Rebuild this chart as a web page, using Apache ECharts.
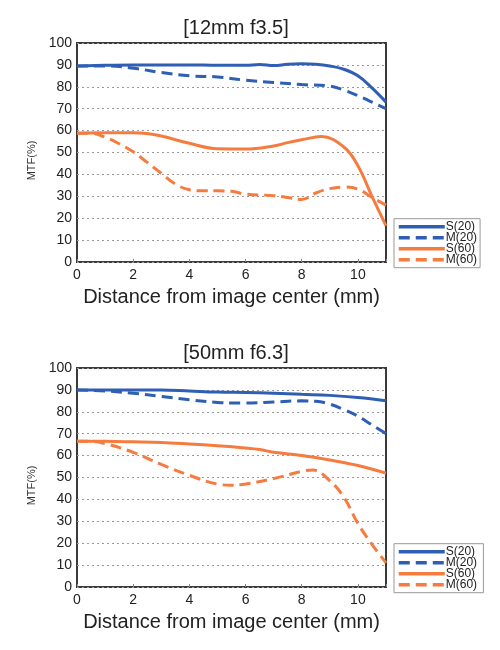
<!DOCTYPE html>
<html><head><meta charset="utf-8">
<script src="https://cdn.jsdelivr.net/npm/echarts@6/dist/echarts.min.js"></script>
<style>html,body{margin:0;padding:0;background:#fff}#c{width:500px;height:650px}</style>
</head><body><div id="c"></div>
<script>
var titles = ['[12mm f3.5]', '[50mm f6.3]'];
var seriesNames = ['S(20)', 'M(20)', 'S(60)', 'M(60)'];
var xTicks = [0, 2, 4, 6, 8, 10];

// Chart 1: 12mm f3.5
var a_S20_x = [0, 1, 2, 3, 4, 5, 6, 6.5, 7, 7.5, 8, 8.5, 9, 9.5, 10, 10.5, 11];
var a_S20_y = [89.5, 89.8, 90, 90, 90, 89.8, 89.8, 90.2, 89.7, 90.3, 90.5, 90.3, 89.5, 88, 85, 79.5, 73];
var a_M20_x = [0, 1, 2, 3, 4, 5, 6, 7, 8, 9, 9.5, 10, 10.5, 11];
var a_M20_y = [89.5, 89.5, 88.5, 86.5, 85, 84.5, 83, 82, 81, 80.3, 78.5, 76, 73, 70];
var a_S60_x = [0, 1, 2, 2.4, 3, 4, 5, 6, 7, 7.5, 8, 8.7, 9.5, 10, 10.5, 11];
var a_S60_y = [58.8, 59, 59, 58.8, 57.5, 54.2, 51.7, 51.6, 53, 54.5, 55.8, 57.3, 52.5, 44, 30, 16.5];
var a_M60_x = [0, 0.5, 1, 1.5, 2, 2.5, 3, 3.5, 4, 4.5, 5, 5.5, 6, 7, 7.5, 8, 8.5, 9, 9.5, 10, 10.5, 11];
var a_M60_y = [58.8, 58.8, 57, 54, 50.3, 45.5, 40.5, 35.6, 33, 32.5, 32.5, 32.3, 31, 30.3, 29.5, 28.5, 31.5, 33.5, 34.2, 33.3, 29.5, 26];

// Chart 2: 50mm f6.3
var b_S20_x = [0, 2, 3, 4, 5, 6, 7, 8, 9, 10, 11];
var b_S20_y = [90, 90, 90, 89.5, 89, 88.8, 88.5, 88, 87.5, 86.5, 85];
var b_M20_x = [0, 1, 2, 3, 4, 5, 5.5, 6, 7, 8, 8.5, 9, 9.5, 10, 10.5, 11];
var b_M20_y = [90, 89.5, 88.5, 87, 85.5, 84.3, 84, 84, 84.5, 85, 84.8, 83.5, 81, 78, 74, 70];
var b_S60_x = [0, 1, 2, 3, 4, 5, 6, 6.5, 7, 8, 9, 10, 11];
var b_S60_y = [66.5, 66.5, 66.3, 66, 65.3, 64.5, 63.5, 62.8, 61.5, 60, 58, 55.5, 52];
var b_M60_x = [0, 0.5, 1, 2, 3, 4, 5, 5.5, 6, 7, 8, 8.4, 9, 9.5, 10, 10.5, 11];
var b_M60_y = [66.5, 66.5, 65.5, 61.5, 56, 51, 47, 46.5, 47, 49.5, 52.8, 53.4, 48.5, 41, 29, 19.5, 11];

function pairs(xs, ys) { return xs.map(function (x, i) { return [x, ys[i]]; }); }

var BLUE = '#2f5fb3', ORANGE = '#f57b3f';
var styles = [
  {color: BLUE, type: 'solid'},
  {color: BLUE, type: [11, 6]},
  {color: ORANGE, type: 'solid'},
  {color: ORANGE, type: [11, 6]}
];
var dataSets = [
  [pairs(a_S20_x, a_S20_y), pairs(a_M20_x, a_M20_y), pairs(a_S60_x, a_S60_y), pairs(a_M60_x, a_M60_y)],
  [pairs(b_S20_x, b_S20_y), pairs(b_M20_x, b_M20_y), pairs(b_S60_x, b_S60_y), pairs(b_M60_x, b_M60_y)]
];
var tops = [43, 368];
var FONT = 'Liberation Sans, Arial, sans-serif';

var option = {
  animation: false,
  title: titles.map(function (t, i) {
    return {text: t, left: 231, textAlign: 'center', top: tops[i] - 30,
      textStyle: {fontSize: 20, fontWeight: 'normal', color: '#222', fontFamily: FONT}};
  }),
  grid: tops.map(function (t) {
    return {left: 77, top: t, width: 309, height: 219, show: true, borderColor: '#3a3a3a', borderWidth: 2, backgroundColor: 'transparent'};
  }),
  xAxis: tops.map(function (t, i) {
    return {type: 'value', gridIndex: i, min: 0, max: 11, interval: 2,
      name: 'Distance from image center (mm)', nameLocation: 'middle', nameGap: 25,
      nameTextStyle: {fontSize: 20, color: '#222', fontFamily: FONT},
      axisLine: {show: false}, splitLine: {show: false},
      axisTick: {show: true, inside: true, length: 3, lineStyle: {color: '#888'}},
      axisLabel: {fontSize: 14, color: '#222', margin: 6, fontFamily: FONT,
        formatter: function (v) { return xTicks.indexOf(v) >= 0 ? String(v) : ''; }}};
  }),
  yAxis: tops.map(function (t, i) {
    return {type: 'value', gridIndex: i, min: 0, max: 100, interval: 10,
      name: 'MTF(%)', nameLocation: 'middle', nameGap: 40,
      nameTextStyle: {fontSize: 11, color: '#333', fontFamily: FONT, padding: [0, 0, 0, -16]},
      axisLine: {show: false}, axisTick: {show: false},
      splitLine: {show: true, lineStyle: {color: '#999', type: [2, 3], width: 1}},
      axisLabel: {fontSize: 14, color: '#222', margin: 5, fontFamily: FONT}};
  }),
  legend: tops.map(function (t, i) {
    return {orient: 'vertical', left: 394, top: t + 175.7, itemWidth: 46, itemHeight: 6, itemGap: -1,
      padding: [2, 3, 2, 3], borderColor: '#999', borderWidth: 1, selectedMode: false,
      itemStyle: {opacity: 0},
      lineStyle: {width: 3.5},
      textStyle: {fontSize: 12, lineHeight: 10, color: '#222', fontFamily: FONT, padding: [0, 0, 0, -4]},
      data: seriesNames.map(function (n) { return n + (i ? ' ' : ''); })};
  }),
  series: []
};

dataSets.forEach(function (set, i) {
  set.forEach(function (data, k) {
    option.series.push({
      name: seriesNames[k] + (i ? ' ' : ''), type: 'line', xAxisIndex: i, yAxisIndex: i,
      data: data, smooth: 0.4, showSymbol: false, symbol: 'none',
      lineStyle: {color: styles[k].color, type: styles[k].type, width: 3},
      itemStyle: {color: styles[k].color}
    });
  });
});

var chart = echarts.init(document.getElementById('c'), null, {renderer: 'canvas'});
chart.setOption(option);
</script></body></html>
